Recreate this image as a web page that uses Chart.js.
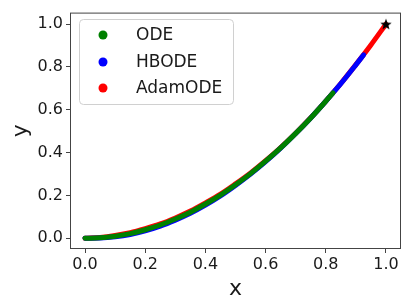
<!DOCTYPE html>
<html>
<head>
<meta charset="utf-8">
<script src="https://cdn.jsdelivr.net/npm/chart.js@4.4.1/dist/chart.umd.min.js"></script>
<style>
  html, body { margin: 0; padding: 0; background: #fff; }
  #wrap { width: 410px; height: 308px; }
</style>
</head>
<body>
<div id="wrap"><canvas id="plot" width="410" height="308"></canvas></div>
<script>
// values
const xTicks = [0, 0.2, 0.4, 0.6, 0.8, 1.0];
const yTicks = [0, 0.2, 0.4, 0.6, 0.8, 1.0];

const odePts = [
  [0, 0], [0.05, 0.002], [0.1, 0.01], [0.15, 0.022], [0.2, 0.04], [0.25, 0.062],
  [0.3, 0.09], [0.35, 0.122], [0.4, 0.16], [0.45, 0.202], [0.5, 0.25], [0.55, 0.302],
  [0.6, 0.36], [0.65, 0.422], [0.7, 0.49], [0.75, 0.562], [0.8, 0.64], [0.824, 0.679]
];
const hbodePts = [
  [0, 0], [0.05, 0.001], [0.1, 0.007], [0.15, 0.018], [0.2, 0.035], [0.25, 0.057],
  [0.3, 0.085], [0.35, 0.117], [0.4, 0.155], [0.45, 0.198], [0.5, 0.247], [0.55, 0.3],
  [0.6, 0.358], [0.65, 0.421], [0.7, 0.489], [0.75, 0.562], [0.8, 0.64], [0.85, 0.722],
  [0.9, 0.81], [0.926, 0.857]
];
const adamPts = [
  [0, 0], [0.05, 0.004], [0.1, 0.013], [0.15, 0.026], [0.2, 0.045], [0.25, 0.067],
  [0.3, 0.095], [0.35, 0.127], [0.4, 0.165], [0.45, 0.206], [0.5, 0.254], [0.55, 0.305],
  [0.6, 0.362], [0.65, 0.424], [0.7, 0.491], [0.75, 0.563], [0.8, 0.641], [0.85, 0.723],
  [0.9, 0.811], [0.95, 0.903], [1.0, 1.0]
];
const targetPt = [[1.0, 1.0]];

const seriesNames = ['ODE', 'HBODE', 'AdamODE'];
const seriesColors = ['#008000', '#0000ff', '#ff0000'];

const toXY = arr => arr.map(p => ({x: p[0], y: p[1]}));

// filled star like matplotlib's '*'
function makeStar(size) {
  const c = document.createElement('canvas');
  c.width = size; c.height = size;
  const g = c.getContext('2d');
  const cx = size / 2, cy = size / 2 + 0.5, R = size / 2, r = R * 0.42;
  g.beginPath();
  for (let i = 0; i < 10; i++) {
    const a = -Math.PI / 2 + i * Math.PI / 5;
    const rr = i % 2 === 0 ? R : r;
    g.lineTo(cx + rr * Math.cos(a), cy + rr * Math.sin(a));
  }
  g.closePath();
  g.fillStyle = '#000';
  g.fill();
  return c;
}
const star = makeStar(12);

const frameAndLegend = {
  id: 'frameAndLegend',
  afterDatasetsDraw(chart) {
    const {ctx, chartArea: a} = chart;
    ctx.save();
    ctx.strokeStyle = '#444';
    ctx.lineWidth = 1;
    ctx.strokeRect(a.left + 0.5, a.top + 0.5, a.right - a.left - 1, a.bottom - a.top - 1);

    // legend box
    const bx = 79.5, by = 19.5, bw = 154, bh = 85, rad = 4;
    ctx.beginPath();
    ctx.roundRect(bx, by, bw, bh, rad);
    ctx.fillStyle = 'rgba(255,255,255,0.85)';
    ctx.fill();
    ctx.strokeStyle = '#d0d0d0';
    ctx.stroke();
    ctx.font = '17px "DejaVu Sans"';
    ctx.textBaseline = 'middle';
    ctx.textAlign = 'left';
    const rows = [35, 62, 88];
    seriesNames.forEach((n, i) => {
      ctx.beginPath();
      ctx.arc(103, rows[i], 4.5, 0, Math.PI * 2);
      ctx.fillStyle = seriesColors[i];
      ctx.fill();
      ctx.fillStyle = '#1a1a1a';
      ctx.fillText(n, 136, rows[i] + 1);
    });
    ctx.restore();
  }
};

const lineDs = (label, pts, color) => ({
  label: label,
  data: toXY(pts),
  borderColor: color,
  backgroundColor: color,
  borderWidth: 5,
  pointRadius: 0,
  showLine: true,
  cubicInterpolationMode: 'monotone',
  borderCapStyle: 'round'
});

const ctx = document.getElementById('plot');
new Chart(ctx, {
  type: 'scatter',
  data: {
    datasets: [
      {
        label: 'target',
        data: toXY(targetPt),
        pointStyle: star,
        pointRadius: 6,
        showLine: false
      },
      lineDs(seriesNames[0], odePts, seriesColors[0]),
      lineDs(seriesNames[1], hbodePts, seriesColors[1]),
      lineDs(seriesNames[2], adamPts, seriesColors[2])
    ]
  },
  options: {
    responsive: false,
    animation: false,
    layout: { padding: { top: 9.5, right: 9, left: 0, bottom: 0 } },
    plugins: {
      legend: { display: false },
      tooltip: { enabled: false }
    },
    scales: {
      x: {
        type: 'linear',
        min: -0.05,
        max: 1.05,
        afterBuildTicks: s => { s.ticks = xTicks.map(v => ({value: v})); },
        afterFit: s => { s.height = 59; },
        grid: { display: true, drawOnChartArea: false, tickLength: 4, color: '#444' },
        border: { display: false },
        ticks: {
          color: '#1a1a1a',
          font: { family: 'DejaVu Sans', size: 16 },
          padding: 2,
          maxRotation: 0,
          callback: v => v.toFixed(1)
        },
        title: {
          display: true,
          text: 'x',
          color: '#1a1a1a',
          font: { family: 'DejaVu Sans', size: 22 },
          padding: { top: 0, bottom: 6 }
        }
      },
      y: {
        type: 'linear',
        min: -0.05,
        max: 1.054,
        afterBuildTicks: s => { s.ticks = yTicks.map(v => ({value: v})); },
        afterFit: s => { s.width = 70; },
        grid: { display: true, drawOnChartArea: false, tickLength: 4, color: '#444' },
        border: { display: false },
        ticks: {
          color: '#1a1a1a',
          font: { family: 'DejaVu Sans', size: 16 },
          padding: 3,
          callback: v => v.toFixed(1)
        },
        title: {
          display: true,
          text: 'y',
          color: '#1a1a1a',
          font: { family: 'DejaVu Sans', size: 22 },
          padding: { top: 8, bottom: 0 }
        }
      }
    }
  },
  plugins: [frameAndLegend]
});
</script>
</body>
</html>
